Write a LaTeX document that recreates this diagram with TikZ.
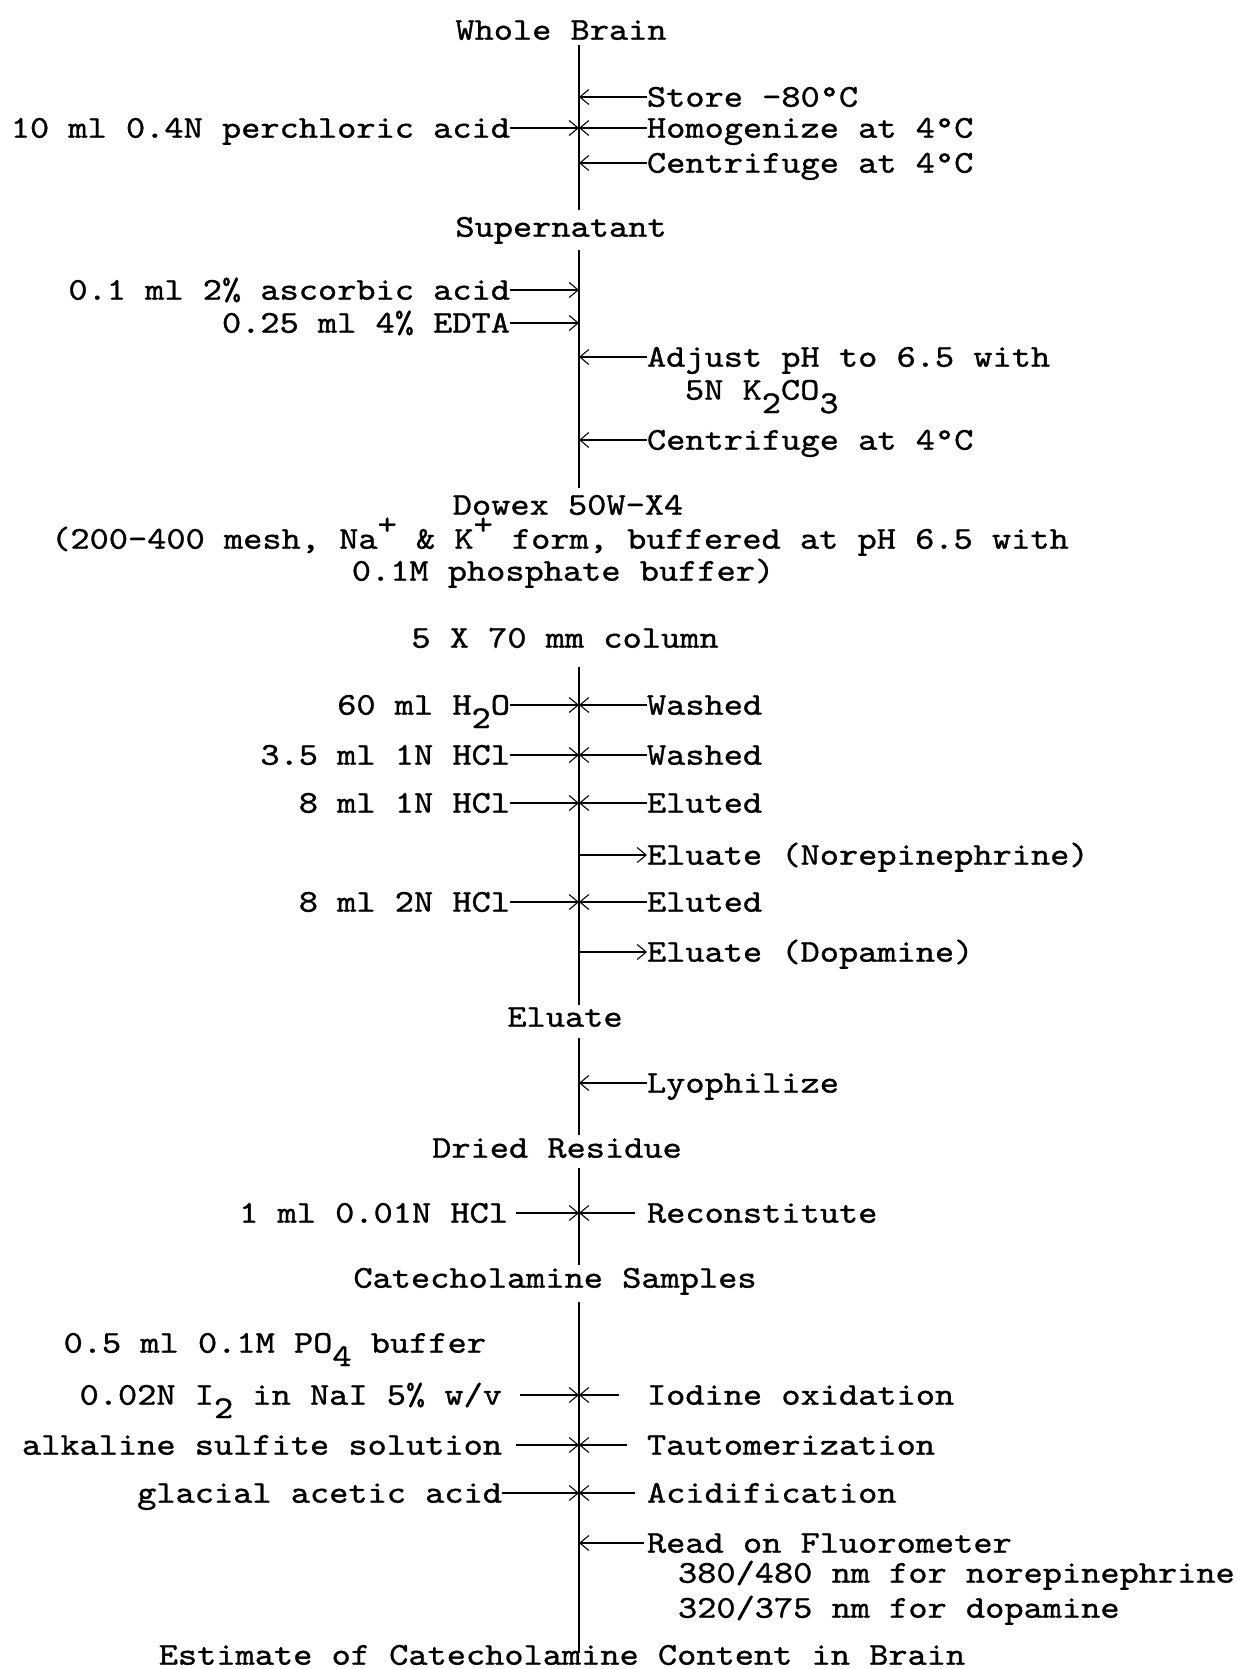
\documentclass[tikz,border=0pt]{standalone}
\usepackage{fontspec}
\newfontfamily\tw{lmmono10-regular}[Extension=.otf,FakeStretch=1.15,FakeBold=1]
\usetikzlibrary{arrows.meta}
\newcommand\myup[1]{\raisebox{0.45em}{#1}}
\newcommand\mydn[1]{\raisebox{-0.42em}{#1}}
\begin{document}
\begin{tikzpicture}[x=1pt,y=-1pt,
  every node/.style={inner sep=0pt, outer sep=0pt, font=\tw\fontsize{31.8}{36}\selectfont, text height=19.4pt, text depth=0pt},
  ttl/.style={anchor=center},
  lt/.style={anchor=east},
  rt/.style={anchor=west},
  spine/.style={line width=1.8pt},
  arr/.style={line width=1.1pt, -{Straight Barb[length=9pt,width=15pt,line width=1.1pt]}},
]
\useasboundingbox[fill=white] (0,0) rectangle (1239,1669);
\coordinate (sp) at (579,0);

% --- titles
\node[ttl] (wb)  at (561,30)   {Whole Brain};
\node[ttl] (sup) at (561,227)  {Supernatant};
\node[ttl] (dow) at (568,505)  {Dowex 50W-X4};
\node[ttl] (dow2) at (560,539) {(200-400 mesh, Na\myup{+} \& K\myup{+} form, buffered at pH 6.5 with};
\node[ttl] (dow3) at (563,571) {0.1M phosphate buffer)};
\node[ttl] (col) at (565,638)  {5 X 70 mm column};
\node[ttl] (elu) at (565,1017) {Eluate};
\node[ttl] (dr)  at (557,1148) {Dried Residue};
\node[ttl] (cs)  at (555,1278) {Catecholamine Samples};
\node[ttl] (est) at (562,1655) {Estimate of Catecholamine Content in Brain};

% --- spine
\draw[spine,shorten <=5pt,shorten >=7pt]   (wb.south -| sp)  -- (sup.north -| sp);
\draw[spine,shorten <=13pt,shorten >=7pt]  (sup.south -| sp) -- (dow.north -| sp);
\draw[spine,shorten <=19pt,shorten >=2pt]  (col.south -| sp) -- (elu.north -| sp);
\draw[spine,shorten <=11pt,shorten >=3pt]  (elu.south -| sp) -- (dr.north -| sp);
\draw[spine,shorten <=10pt,shorten >=3pt]  (dr.south -| sp)  -- (cs.north -| sp);
\draw[spine,shorten <=14pt,shorten >=-8pt] (cs.south -| sp)  -- (est.north -| sp);

% --- block 1
\node[rt] (store) at (647,97)  {Store -80°C};
\node[lt] (pca)   at (510,128) {10 ml 0.4N perchloric acid};
\node[rt] (hom)   at (647,128) {Homogenize at 4°C};
\node[rt] (cen1)  at (647,163) {Centrifuge at 4°C};
\draw[arr] (store.west) -- (store.west -| sp);
\draw[arr] (pca.east)   -- (pca.east -| sp);
\draw[arr] (hom.west)   -- (hom.west -| sp);
\draw[arr] (cen1.west)  -- (cen1.west -| sp);

% --- block 2
\node[lt] (asc)  at (510,290) {0.1 ml 2\% ascorbic acid};
\node[lt] (edta) at (510,323) {0.25 ml 4\% EDTA};
\node[rt] (adj)  at (647,357) {Adjust pH to 6.5 with};
\node[rt] (adj2) at (685,390) {5N K\mydn{2}CO\mydn{3}};
\node[rt] (cen2) at (647,440) {Centrifuge at 4°C};
\draw[arr] (asc.east)  -- (asc.east -| sp);
\draw[arr] (edta.east) -- (edta.east -| sp);
\draw[arr] (adj.west)  -- (adj.west -| sp);
\draw[arr] (cen2.west) -- (cen2.west -| sp);

% --- column
\node[lt] (h2o) at (510,705) {60 ml H\mydn{2}O};
\node[rt] (w1)  at (647,705) {Washed};
\node[lt] (hc1) at (510,755) {3.5 ml 1N HCl};
\node[rt] (w2)  at (647,755) {Washed};
\node[lt] (hc2) at (510,803) {8 ml 1N HCl};
\node[rt] (e1)  at (647,803) {Eluted};
\node[rt] (ne)  at (647,855) {Eluate (Norepinephrine)};
\node[lt] (hc3) at (510,902) {8 ml 2N HCl};
\node[rt] (e2)  at (647,902) {Eluted};
\node[rt] (da)  at (647,952) {Eluate (Dopamine)};
\draw[arr] (h2o.east) -- (h2o.east -| sp);
\draw[arr] (w1.west)  -- (w1.west -| sp);
\draw[arr] (hc1.east) -- (hc1.east -| sp);
\draw[arr] (w2.west)  -- (w2.west -| sp);
\draw[arr] (hc2.east) -- (hc2.east -| sp);
\draw[arr] (e1.west)  -- (e1.west -| sp);
\draw[arr] (ne.west -| sp) -- (ne.west);
\draw[arr] (hc3.east) -- (hc3.east -| sp);
\draw[arr] (e2.west)  -- (e2.west -| sp);
\draw[arr] (da.west -| sp) -- (da.west);

% --- lyophilize / reconstitute
\node[rt] (lyo) at (647,1083) {Lyophilize};
\draw[arr] (lyo.west) -- (lyo.west -| sp);
\node[lt] (hc4) at (508,1213) {1 ml 0.01N HCl};
\node[rt] (rec) at (647,1213) {Reconstitute};
\draw[arr,shorten <=8pt]  (hc4.east) -- (hc4.east -| sp);
\draw[arr,shorten <=12pt] (rec.west) -- (rec.west -| sp);

% --- assay
\node[lt] (po4) at (486,1343) {0.5 ml 0.1M PO\mydn{4} buffer};
\node[lt] (i2)  at (502,1395) {0.02N I\mydn{2} in NaI 5\% w/v};
\node[rt] (iod) at (647,1395) {Iodine oxidation};
\node[lt] (als) at (502,1445) {alkaline sulfite solution};
\node[rt] (tau) at (647,1445) {Tautomerization};
\node[lt] (gaa) at (502,1493) {glacial acetic acid};
\node[rt] (aci) at (647,1493) {Acidification};
\node[rt] (rd)  at (647,1543) {Read on Fluorometer};
\node[rt] (nm1) at (678,1573) {380/480 nm for norepinephrine};
\node[rt] (nm2) at (678,1608) {320/375 nm for dopamine};
\draw[arr,shorten <=18pt] (i2.east)  -- (i2.east -| sp);
\draw[arr,shorten <=28pt] (iod.west) -- (iod.west -| sp);
\draw[arr,shorten <=14pt] (als.east) -- (als.east -| sp);
\draw[arr,shorten <=20pt] (tau.west) -- (tau.west -| sp);
\draw[arr]                (gaa.east) -- (gaa.east -| sp);
\draw[arr,shorten <=12pt] (aci.west) -- (aci.west -| sp);
\draw[arr,shorten <=3pt]  (rd.west)  -- (rd.west -| sp);
\end{tikzpicture}
\end{document}
